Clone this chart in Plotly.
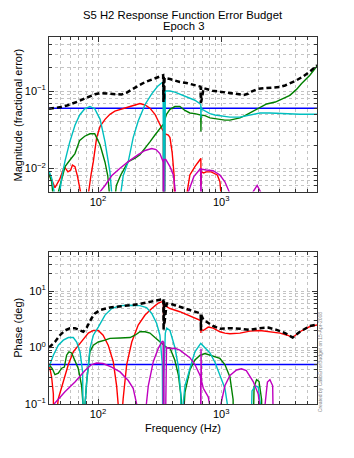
import math
import plotly.graph_objects as go

# ---------------- Magnitude panel data (frequency in Hz, fractional error) ----------------
mag_total_f = [40, 45, 50, 56, 63, 70, 78, 86, 95, 104, 115, 128, 141, 155, 170, 193, 215, 240, 264, 290, 315, 330, 338, 340, 342, 344, 347, 360, 384, 420, 462, 524, 580, 640, 680, 684, 686, 689, 720, 780, 850, 977, 1100, 1250, 1400, 1530, 1650, 1800, 2000, 2300, 2700, 3000, 3300, 3600, 4000, 4640, 5250, 5950, 6000]
mag_total = [0.059, 0.060, 0.062, 0.065, 0.069, 0.074, 0.080, 0.086, 0.091, 0.094, 0.093, 0.090, 0.089, 0.090, 0.095, 0.108, 0.118, 0.130, 0.138, 0.147, 0.153, 0.157, 0.160, 0.072, 0.155, 0.075, 0.148, 0.145, 0.143, 0.137, 0.131, 0.127, 0.122, 0.117, 0.114, 0.070, 0.112, 0.072, 0.109, 0.105, 0.101, 0.098, 0.095, 0.092, 0.090, 0.089, 0.092, 0.100, 0.107, 0.109, 0.111, 0.113, 0.118, 0.125, 0.135, 0.155, 0.178, 0.213, 0.215]

mag_sys_f = [40, 6000]
mag_sys = [0.06, 0.06]

mag_red_f = [40, 42, 44.7, 47, 49, 52, 54, 57, 60, 62, 65, 68, 71, 74, 77, 79, 81, 84, 88, 91.6, 97.5, 104, 114, 125, 137, 151, 166, 182, 200, 219, 241, 264, 290, 318, 335, 339, 341, 343, 345, 350, 372, 384, 400, 415, 425, 432, 445, 470, 500, 530, 557, 612, 675, 684, 686, 689, 720, 757, 830, 930, 977, 1020, 1045, 1060]
mag_red = [0.0082, 0.0072, 0.0056, 0.0065, 0.0073, 0.0095, 0.0102, 0.009, 0.0095, 0.011, 0.0105, 0.008, 0.006, 0.004, 0.002, 0.0002, 0.002, 0.005, 0.0085, 0.0122, 0.025, 0.035, 0.043, 0.05, 0.055, 0.058, 0.061, 0.063, 0.066, 0.069, 0.066, 0.06, 0.05, 0.037, 0.031, 0.03, 0.0002, 0.03, 0.0002, 0.028, 0.027, 0.025, 0.016, 0.008, 0.003, 0.0002, 0.002, 0.003, 0.0035, 0.005, 0.0082, 0.0105, 0.013, 0.0135, 0.006, 0.009, 0.0087, 0.009, 0.009, 0.0082, 0.0067, 0.004, 0.002, 0.0002]

mag_grn_f = [40, 42, 43.5, 44.5, 46, 50.7, 54, 59, 65, 71, 78, 86, 94, 104, 114, 120, 125, 129, 134, 141, 153, 176, 200, 219, 241, 264, 290, 318, 338, 341, 344, 360, 384, 421, 462, 508, 557, 612, 660, 683, 685, 688, 738, 811, 890, 977, 1072, 1178, 1293, 1420, 1559, 1712, 1880, 2064, 2340, 2750, 3190, 3615, 4090, 4500, 5250, 5950, 6000]
mag_grn = [0.0085, 0.0067, 0.004, 0.0002, 0.004, 0.0075, 0.0105, 0.0127, 0.0155, 0.023, 0.026, 0.028, 0.028, 0.02, 0.012, 0.008, 0.004, 0.0002, 0.003, 0.006, 0.0082, 0.0122, 0.0135, 0.015, 0.018, 0.022, 0.027, 0.033, 0.037, 0.033, 0.04, 0.05, 0.058, 0.063, 0.063, 0.056, 0.052, 0.051, 0.049, 0.049, 0.03, 0.049, 0.048, 0.045, 0.044, 0.043, 0.042, 0.042, 0.043, 0.045, 0.048, 0.052, 0.057, 0.062, 0.068, 0.072, 0.08, 0.088, 0.105, 0.125, 0.16, 0.207, 0.21]

mag_cyan_f = [40, 42, 44, 45.5, 46.5, 47.5, 49, 51, 54, 59, 65, 71, 78, 86, 94, 104, 114, 125, 132, 137, 141, 146, 151, 160, 176, 193, 212, 241, 273, 305, 330, 338, 340, 342, 346, 352, 370, 384, 421, 462, 524, 612, 660, 683, 685, 688, 700, 738, 811, 890, 977, 1178, 1420, 1712, 2064, 2488, 3000, 3615, 4356, 6000]
mag_cyan = [0.0092, 0.0075, 0.005, 0.0025, 0.0002, 0.0025, 0.005, 0.008, 0.0125, 0.022, 0.036, 0.049, 0.059, 0.063, 0.059, 0.043, 0.022, 0.009, 0.004, 0.0015, 0.0002, 0.002, 0.004, 0.008, 0.0122, 0.025, 0.041, 0.067, 0.092, 0.115, 0.128, 0.13, 0.0002, 0.11, 0.0003, 0.1, 0.1, 0.1, 0.097, 0.091, 0.085, 0.076, 0.07, 0.067, 0.045, 0.062, 0.058, 0.055, 0.051, 0.049, 0.048, 0.046, 0.046, 0.049, 0.052, 0.052, 0.051, 0.05, 0.05, 0.05]

mag_mag_f = [95, 104, 114, 129, 151, 176, 212, 241, 273, 296, 318, 333, 339, 341, 343, 355, 384, 409, 425, 435, 450, 500, 550, 600, 683, 685, 688, 757, 860, 977, 1072, 1160, 1200, 1400, 1700, 1820, 1960, 2110, 2250, 2400]
mag_mag = [0.003, 0.005, 0.006, 0.008, 0.01, 0.0122, 0.015, 0.017, 0.018, 0.0175, 0.0155, 0.0125, 0.012, 0.0002, 0.013, 0.013, 0.0105, 0.0082, 0.005, 0.0002, 0.002, 0.0035, 0.0055, 0.0078, 0.01, 0.0002, 0.0098, 0.0095, 0.0093, 0.0082, 0.0067, 0.005, 0.0002, 0.002, 0.003, 0.005, 0.006, 0.0048, 0.002, 0.0002]

# ---------------- Phase panel data (frequency in Hz, degrees) ----------------
ph_total_f = [40, 44.7, 49.1, 53.9, 59.2, 65, 71.4, 75.9, 80.9, 88.7, 94.5, 103.8, 125, 151, 182, 219, 264, 318, 336, 339, 341, 343, 345, 361, 384, 421, 462, 557, 660, 682, 685, 688, 716, 785, 862, 977, 1178, 1420, 1712, 2064, 2410, 2820, 3300, 3800, 4356, 5250, 6000]
ph_total = [1.0, 1.25, 1.65, 2.0, 2.2, 2.2, 2.0, 1.9, 2.25, 3.3, 4.0, 4.6, 5.1, 5.3, 5.6, 5.9, 6.4, 7.0, 7.4, 7.0, 2.0, 6.8, 2.5, 6.0, 6.0, 5.6, 5.3, 4.6, 4.1, 4.0, 2.0, 3.8, 3.1, 2.7, 2.4, 2.15, 2.2, 2.15, 2.05, 2.2, 2.25, 2.05, 1.8, 1.5, 1.9, 2.4, 2.55]

ph_sys_f = [40, 6000]
ph_sys = [0.5, 0.5]

ph_red_f = [40, 42, 43.4, 44.2, 45, 47.6, 52.3, 57.4, 63, 69.2, 75.9, 83.4, 91.6, 100.5, 110, 121, 133, 141.6, 147, 151, 155, 160, 171, 188, 212, 241, 273, 308, 333, 339, 341, 343, 361, 384, 462, 557, 660, 682, 685, 688, 716, 785, 862, 977, 1072, 1178, 1420, 1712, 2064, 2488, 3000, 3450, 3800, 4356, 5250, 6000]
ph_red = [0.52, 0.3, 0.15, 0.0005, 0.04, 0.124, 0.245, 0.5, 0.84, 1.1, 1.44, 1.8, 2.0, 2.0, 1.65, 1.1, 0.56, 0.21, 0.08, 0.0005, 0.05, 0.124, 0.5, 1.25, 2.5, 3.75, 4.9, 6.1, 6.5, 6.6, 3.0, 6.0, 5.3, 4.9, 4.3, 3.6, 3.1, 3.0, 1.8, 2.1, 2.0, 2.3, 2.2, 1.9, 1.8, 1.75, 1.8, 1.95, 2.0, 1.9, 1.8, 1.65, 1.5, 1.9, 2.35, 2.5]

ph_grn_f = [40, 42.6, 44.7, 47.6, 50.7, 53.3, 55.6, 58.1, 61.1, 65, 69.2, 73.6, 75.5, 76.9, 78.5, 80.9, 86, 91.6, 100.5, 114, 125, 151, 182, 200, 219, 241, 264, 290, 318, 333, 343, 361, 384, 420, 450, 475, 485, 495, 508, 557, 612, 675, 738, 811, 977, 1072, 1178, 1250, 1293, 1500, 1750, 1850, 1940, 2030, 2130, 2180, 2400]
ph_grn = [0.5, 0.42, 0.33, 0.35, 0.43, 0.45, 0.73, 0.84, 0.8, 0.6, 0.42, 0.21, 0.1, 0.0005, 0.1, 0.245, 0.84, 1.1, 1.25, 1.35, 1.45, 1.47, 1.5, 1.65, 1.9, 1.9, 1.8, 1.5, 1.25, 1.15, 1.1, 1.0, 0.98, 0.6, 0.32, 0.12, 0.0005, 0.06, 0.16, 0.4, 0.6, 0.73, 0.78, 0.73, 0.64, 0.5, 0.3, 0.12, 0.0005, 0.05, 0.0005, 0.2, 0.27, 0.25, 0.12, 0.0005, 0.01]

ph_cyan_f = [40, 43.4, 47.6, 52.3, 57.4, 63, 67.1, 71.4, 75, 76.5, 77.4, 78.5, 80.9, 86, 91.6, 100.5, 114, 129, 151, 182, 219, 248, 273, 299, 318, 333, 338, 340, 342, 346, 352, 361, 384, 421, 450, 470, 478, 486, 508, 557, 612, 683, 738, 811, 890, 977, 1072, 1140, 1178, 1300, 1500, 1660, 1780, 1900, 2000, 2080, 2120, 2300]
ph_cyan = [0.45, 0.73, 1.1, 1.35, 1.5, 1.5, 1.25, 0.84, 0.37, 0.15, 0.0005, 0.1, 0.245, 0.96, 1.65, 2.3, 3.75, 4.9, 5.5, 5.6, 5.5, 5.1, 4.0, 2.7, 1.65, 0.5, 0.2, 0.0005, 0.3, 1.0, 1.8, 2.2, 2.0, 1.0, 0.45, 0.15, 0.0005, 0.08, 0.21, 0.42, 0.84, 1.18, 1.0, 0.8, 0.55, 0.32, 0.19, 0.08, 0.0005, 0.05, 0.05, 0.0005, 0.17, 0.21, 0.2, 0.1, 0.0005, 0.01]

ph_mag_f = [44, 53.9, 65, 78.4, 88.7, 97.5, 110, 129, 151, 176, 193, 206, 212, 220, 241, 256, 281, 308, 329, 338, 340, 342, 344, 360, 384, 421, 462, 557, 612, 670, 682, 684, 686, 688, 692, 716, 785, 820, 851, 930, 1000, 1072, 1178, 1334, 1460, 1600, 1820, 2000, 2070, 2090, 2200, 2375, 2488, 2620, 2730]
ph_mag = [0.1, 0.165, 0.245, 0.39, 0.5, 0.53, 0.52, 0.45, 0.37, 0.26, 0.19, 0.1, 0.05, 0.0005, 0.06, 0.21, 0.56, 0.96, 1.25, 1.3, 0.0005, 1.25, 0.0005, 1.0, 0.96, 0.97, 0.9, 0.66, 0.5, 0.33, 0.3, 0.0005, 0.95, 0.0005, 0.26, 0.19, 0.134, 0.08, 0.0005, 0.05, 0.1, 0.21, 0.32, 0.4, 0.42, 0.39, 0.25, 0.15, 0.08, 0.0005, 0.05, 0.245, 0.27, 0.21, 0.0005]

# axis ranges and tick labels
x_range_hz = [40, 6000]
mag_range = [0.005, 0.5]
ph_range = [0.1, 50]
x_tickvals = [100, 1000]
x_ticktext = ["10<sup>2</sup>", "10<sup>3</sup>"]
mag_tickvals = [0.01, 0.1]
mag_ticktext = ["10<sup>\u22122</sup>", "10<sup>\u22121</sup>"]
ph_tickvals = [0.1, 1, 10]
ph_ticktext = ["10<sup>\u22121</sup>", "10<sup>0</sup>", "10<sup>1</sup>"]

RED = "#ff0000"
GRN = "#008000"
CYN = "#00bfbf"
MAG = "#bf00bf"
BLU = "#0000ff"
BLK = "#000000"

fig = go.Figure()


def add(f, v, color, width, xa, ya, dash="solid"):
    fig.add_trace(go.Scatter(x=f, y=v, mode="lines", xaxis=xa, yaxis=ya,
                             line=dict(color=color, width=width, dash=dash),
                             showlegend=False, hoverinfo="skip"))


for (xa, ya, sysf, sysv, rf, rv, gf, gv, cf, cv, mf, mv, tf, tv) in [
    ("x", "y", mag_sys_f, mag_sys, mag_red_f, mag_red, mag_grn_f, mag_grn,
     mag_cyan_f, mag_cyan, mag_mag_f, mag_mag, mag_total_f, mag_total),
    ("x2", "y2", ph_sys_f, ph_sys, ph_red_f, ph_red, ph_grn_f, ph_grn,
     ph_cyan_f, ph_cyan, ph_mag_f, ph_mag, ph_total_f, ph_total),
]:
    add(sysf, sysv, BLU, 1.5, xa, ya)
    add(rf, rv, RED, 1.4, xa, ya)
    add(gf, gv, GRN, 1.4, xa, ya)
    add(cf, cv, CYN, 1.4, xa, ya)
    add(mf, mv, MAG, 1.4, xa, ya)
    add(tf, tv, BLK, 2.5, xa, ya, dash="5px,3px")

FONT = "Liberation Sans, Arial, Helvetica, sans-serif"
GRID = "#c4c4c4"

axis_common = dict(
    type="log", showline=True, linecolor="#333333", linewidth=1, mirror="ticks",
    ticks="inside", ticklen=5, tickcolor="#333333", tickmode="array",
    showgrid=True, gridcolor=GRID, griddash="dot", gridwidth=1,
    zeroline=False, automargin=False, tickfont=dict(family=FONT, size=11, color="#000000"),
    minor=dict(ticks="inside", ticklen=3, tickcolor="#333333", dtick="D1",
               showgrid=True, gridcolor=GRID, griddash="dot", gridwidth=1),
)

# page body has an 8px default margin, so the figure is sized to fit inside it
lx = [math.log10(v) for v in x_range_hz]
fig.update_layout(
    width=346, height=450,
    margin=dict(l=41, r=37, t=29, b=54),
    paper_bgcolor="white", plot_bgcolor="white",
    font=dict(family=FONT, size=11, color="#000000"),
    xaxis=dict(axis_common, range=lx, anchor="y", domain=[0, 1],
               tickvals=x_tickvals, ticktext=x_ticktext),
    yaxis=dict(axis_common, range=[math.log10(v) for v in mag_range], anchor="x", domain=[0.5788, 1],
               tickvals=mag_tickvals, ticktext=mag_ticktext),
    xaxis2=dict(axis_common, range=lx, anchor="y2", domain=[0, 1],
                tickvals=x_tickvals, ticktext=x_ticktext),
    yaxis2=dict(axis_common, range=[math.log10(v) for v in ph_range], anchor="x2", domain=[0, 0.4155],
                tickvals=ph_tickvals, ticktext=ph_ticktext),
)

# plot area is 367 px tall starting 29 px below the figure top
fig.add_annotation(text="S5 H2 Response Function Error Budget", xref="paper", yref="paper",
                   x=0.5, y=1 + 29 / 367.0, xanchor="center", yanchor="top", showarrow=False,
                   borderpad=0, font=dict(family=FONT, size=11.3, color="#000000"))
fig.add_annotation(text="Epoch 3", xref="paper", yref="paper",
                   x=0.5, y=1 + (29 - 17.7) / 367.0, xanchor="center", yanchor="middle", showarrow=False,
                   borderpad=0, font=dict(family=FONT, size=11.3, color="#000000"))
fig.add_annotation(text="Magnitude (fractional error)", xref="paper", yref="paper",
                   x=-0.1157, y=0.789, xanchor="center", yanchor="middle", textangle=-90,
                   showarrow=False, font=dict(family=FONT, size=11, color="#000000"))
fig.add_annotation(text="Phase (deg)", xref="paper", yref="paper",
                   x=-0.1157, y=0.2078, xanchor="center", yanchor="middle", textangle=-90,
                   showarrow=False, font=dict(family=FONT, size=11, color="#000000"))
fig.add_annotation(text="Frequency (Hz)", xref="paper", yref="paper",
                   x=0.5, y=-0.0645, xanchor="center", yanchor="middle",
                   showarrow=False, font=dict(family=FONT, size=11, color="#000000"))
fig.add_annotation(text="Created by CalibErrorBudget on 15-Apr-2008", xref="paper", yref="paper",
                   x=1.009, y=0.115, xanchor="center", yanchor="middle", textangle=-90,
                   showarrow=False, font=dict(family=FONT, size=5, color="#888888"))

fig.write_html("out.html")
